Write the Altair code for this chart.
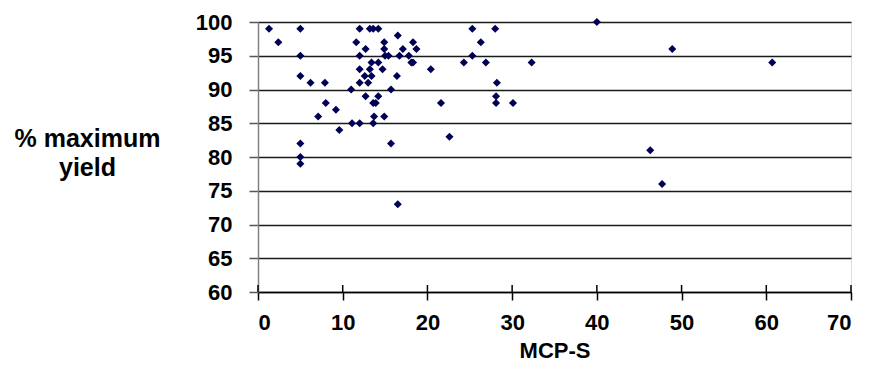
import altair as alt
import pandas as pd

mcp_s = [1.3, 2.4, 5.0, 5.0, 5.0, 5.0, 5.0, 5.0, 6.2, 7.9, 8.0, 7.1, 9.2, 9.6,
         11.0, 11.1, 12.0, 13.6, 13.7, 14.9,
         12.0, 13.2, 13.6, 14.2,
         11.6, 14.9, 12.7, 14.9, 12.0, 15.0, 15.4,
         13.4, 14.2, 13.2, 14.7, 12.0, 12.6, 13.4, 12.0, 13.0, 12.7, 14.2, 13.6, 13.9,
         15.7, 15.7, 16.4, 16.5, 16.5,
         16.7, 17.1, 17.8, 18.3, 18.7, 18.1, 18.3,
         20.4, 21.6, 22.6,
         24.3, 25.3, 25.3, 26.3, 26.9, 28.0, 28.2, 28.1, 28.1, 30.1, 32.3,
         40.0, 46.3, 47.7, 48.9, 60.7]
max_yield = [99, 97, 99, 95, 92, 82, 80, 79, 91, 91, 88, 86, 87, 84,
             90, 85, 85, 85, 86, 86,
             99, 99, 99, 99,
             97, 97, 96, 96, 95, 95, 95,
             94, 94, 93, 93, 93, 92, 92, 91, 91, 89, 89, 88, 88,
             90, 82, 92, 98, 73,
             95, 96, 95, 97, 96, 94, 94,
             93, 88, 83,
             94, 95, 99, 97, 94, 99, 91, 89, 88, 88, 94,
             100, 81, 76, 96, 94]
x_ticks = [0, 10, 20, 30, 40, 50, 60, 70]
y_ticks = [60, 65, 70, 75, 80, 85, 90, 95, 100]

df = pd.DataFrame({"MCP-S": mcp_s, "yield": max_yield})
ticks_df = pd.DataFrame({"MCP-S": x_ticks})

FONT = "Liberation Sans"
x_scale = alt.Scale(domain=[0, 70], nice=False, zero=True)

points = alt.Chart(df).mark_point(
    shape="diamond", filled=True, color="#000055", size=65, opacity=1
).encode(
    x=alt.X("MCP-S:Q", scale=x_scale,
            axis=alt.Axis(values=x_ticks, grid=False,
                          title="MCP-S", titleFont=FONT, titleFontSize=22,
                          titleFontWeight="bold", titleColor="#000",
                          titlePadding=7,
                          labelFont=FONT, labelFontSize=22, labelFontWeight="bold",
                          labelColor="#000", labelPadding=12,
                          domainColor="#000", domainWidth=1.5,
                          tickColor="#000", tickSize=8, tickWidth=1.5)),
    y=alt.Y("yield:Q",
            scale=alt.Scale(domain=[60, 100], nice=False, zero=False),
            axis=alt.Axis(values=y_ticks, grid=True,
                          gridColor="#1a1a1a", gridWidth=1.6,
                          title=["% maximum", "yield"], titleAngle=0,
                          titleFont=FONT, titleFontSize=25, titleFontWeight="bold",
                          titleColor="#000", titleAlign="center",
                          titleBaseline="middle", titleLineHeight=29,
                          titleX=-171, titleY=116,
                          labelFont=FONT, labelFontSize=22, labelFontWeight="bold",
                          labelColor="#000", labelPadding=17,
                          domainColor="#808080", domainWidth=1.5,
                          tickColor="#555", tickSize=9, tickWidth=1.5)),
)

# upper half of the x-axis ticks (ticks cross the axis line in the reference)
tick_up = alt.Chart(ticks_df).mark_rule(color="#000", strokeWidth=1.5).encode(
    x=alt.X("MCP-S:Q", scale=x_scale),
    y=alt.value(263),
    y2=alt.value(270),
)

chart = alt.layer(tick_up, points).properties(
    width=593, height=270,
    padding={"left": 250, "top": 14, "right": 2, "bottom": 72},
    autosize=alt.AutoSizeParams(type="none"),
).configure_view(stroke=None).configure(background="white")

chart.save("out.html", embed_options={"renderer": "svg", "actions": False})
